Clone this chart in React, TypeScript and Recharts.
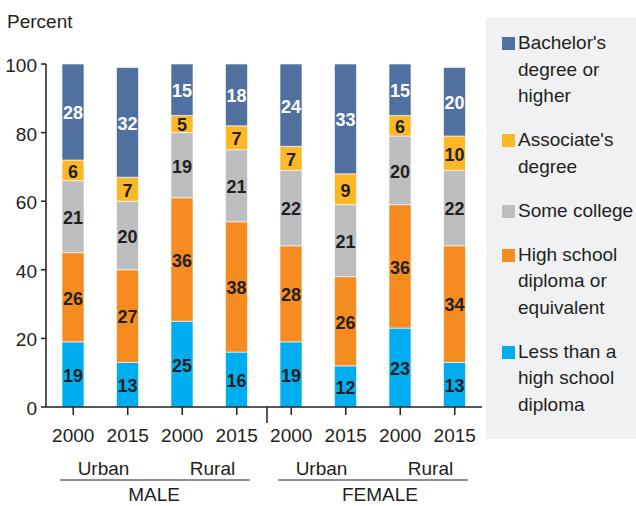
import { BarChart, Bar, XAxis, YAxis, LabelList } from "recharts";

// x categories
const YEARS = ["2000", "2015", "2000", "2015", "2000", "2015", "2000", "2015"];
const AREAS = ["Urban", "Urban", "Rural", "Rural", "Urban", "Urban", "Rural", "Rural"];
const SEXES = ["MALE", "MALE", "MALE", "MALE", "FEMALE", "FEMALE", "FEMALE", "FEMALE"];

// percent per education level, bottom of stack first
const LESS_THAN_HS = [19, 13, 25, 16, 19, 12, 23, 13];
const HIGH_SCHOOL = [26, 27, 36, 38, 28, 26, 36, 34];
const SOME_COLLEGE = [21, 20, 19, 21, 22, 21, 20, 22];
const ASSOCIATE = [6, 7, 5, 7, 7, 9, 6, 10];
const BACHELOR = [28, 32, 15, 18, 24, 33, 15, 20];

const Y_TICKS = [0, 20, 40, 60, 80, 100];

const SERIES = [
  { key: "lessHs", color: "#00AEEF", label: ["Less than a", "high school", "diploma"], text: "#231F20" },
  { key: "highSchool", color: "#F68B1F", label: ["High school", "diploma or", "equivalent"], text: "#231F20" },
  { key: "someCollege", color: "#BCBEC0", label: ["Some college"], text: "#231F20" },
  { key: "associate", color: "#FDB827", label: ["Associate's", "degree"], text: "#231F20" },
  { key: "bachelor", color: "#5071A0", label: ["Bachelor's", "degree or", "higher"], text: "#FFFFFF" },
];

const data = YEARS.map((year, i) => ({
  id: `${SEXES[i]}-${AREAS[i]}-${year}`,
  year,
  lessHs: LESS_THAN_HS[i],
  highSchool: HIGH_SCHOOL[i],
  someCollege: SOME_COLLEGE[i],
  associate: ASSOCIATE[i],
  bachelor: BACHELOR[i],
}));

const W = 636;
const H = 506;
const MARGIN = { top: 64, right: 154, bottom: 0, left: 0 };
const Y_AXIS_W = 46;
const X_AXIS_H = 99;
const STEP = (W - MARGIN.left - MARGIN.right - Y_AXIS_W) / YEARS.length;

const INK = "#231F20";
const FONT = "'Liberation Sans', Arial, Helvetica, sans-serif";

function XTick(props: any) {
  const { x, y, index } = props;
  const i = index as number;
  return (
    <g fontFamily={FONT} fill={INK}>
      <line x1={x} x2={x} y1={y} y2={y + 8} stroke={INK} strokeWidth={1.5} />
      <text x={x} y={y + 35} textAnchor="middle" fontSize={19} fill={INK}>
        {YEARS[i]}
      </text>
      {i % 2 === 0 && (
        <text x={x + STEP / 2 + 3} y={y + 68} textAnchor="middle" fontSize={19} fill={INK}>
          {AREAS[i]}
        </text>
      )}
      {i % 4 === 0 && (
        <>
          <line x1={x - 13} x2={x + 3 * STEP + 13} y1={y + 73} y2={y + 73} stroke={INK} strokeWidth={1.2} />
          <text x={x + 1.5 * STEP + (i === 0 ? -1 : 7)} y={y + 94} textAnchor="middle" fontSize={19} fill={INK}>
            {SEXES[i]}
          </text>
        </>
      )}
      {i === 4 && (
        <line x1={x - STEP / 2 + 3} x2={x - STEP / 2 + 3} y1={y} y2={y + 16} stroke={INK} strokeWidth={1.5} />
      )}
    </g>
  );
}

function YTick(props: any) {
  const { x, y, payload } = props;
  return (
    <text x={x} y={y + 8} textAnchor="end" fontSize={19} fontFamily={FONT} fill={INK}>
      {payload.value}
    </text>
  );
}

function LegendBox() {
  const items = [...SERIES].reverse();
  return (
    <div
      style={{
        position: "absolute",
        left: 486,
        top: 18,
        background: "#F0F1F3",
        width: 150,
        height: 421,
        boxSizing: "border-box",
        padding: "12px 0 0 16px",
        fontFamily: FONT,
        fontSize: 19,
        color: INK,
      }}
    >
      {items.map((s) => (
        <div key={s.key} style={{ display: "flex", alignItems: "flex-start", marginBottom: 17.5 }}>
          <div style={{ width: 13, height: 13, background: s.color, marginTop: 7, marginRight: 3, flex: "none" }} />
          <div style={{ lineHeight: "26.5px", whiteSpace: "nowrap" }}>
            {s.label.map((l) => (
              <div key={l}>{l}</div>
            ))}
          </div>
        </div>
      ))}
    </div>
  );
}

export default function App() {
  return (
    <div style={{ position: "absolute", left: 0, top: 0, width: W, height: H, background: "#fff" }}>
      <div
        style={{
          position: "absolute",
          left: 7,
          top: 11,
          fontFamily: FONT,
          fontSize: 19,
          color: INK,
        }}
      >
        Percent
      </div>
      <LegendBox />
      <BarChart width={W} height={H} data={data} margin={MARGIN}>
        <XAxis
          dataKey="id"
          height={X_AXIS_H}
          axisLine={{ stroke: INK, strokeWidth: 1.5 }}
          tickLine={false}
          tickSize={0}
          tickMargin={0}
          tick={<XTick />}
          interval={0}
        />
        <YAxis
          width={Y_AXIS_W}
          domain={[0, 100]}
          allowDataOverflow
          ticks={Y_TICKS}
          axisLine={{ stroke: INK, strokeWidth: 1.5 }}
          tickLine={{ stroke: INK, strokeWidth: 1.5 }}
          tickSize={5}
          tickMargin={4}
          tick={<YTick />}
          interval={0}
        />
        {SERIES.map((s) => (
          <Bar
            key={s.key}
            dataKey={s.key}
            stackId="edu"
            fill={s.color}
            barSize={22}
            stroke="#ffffff"
            strokeWidth={0.6}
            isAnimationActive={false}
          >
            <LabelList
              dataKey={s.key}
              position="center"
              fill={s.text}
              fontSize={18}
              fontWeight="bold"
              fontFamily={FONT}
              dy={1}
            />
          </Bar>
        ))}
      </BarChart>
    </div>
  );
}
